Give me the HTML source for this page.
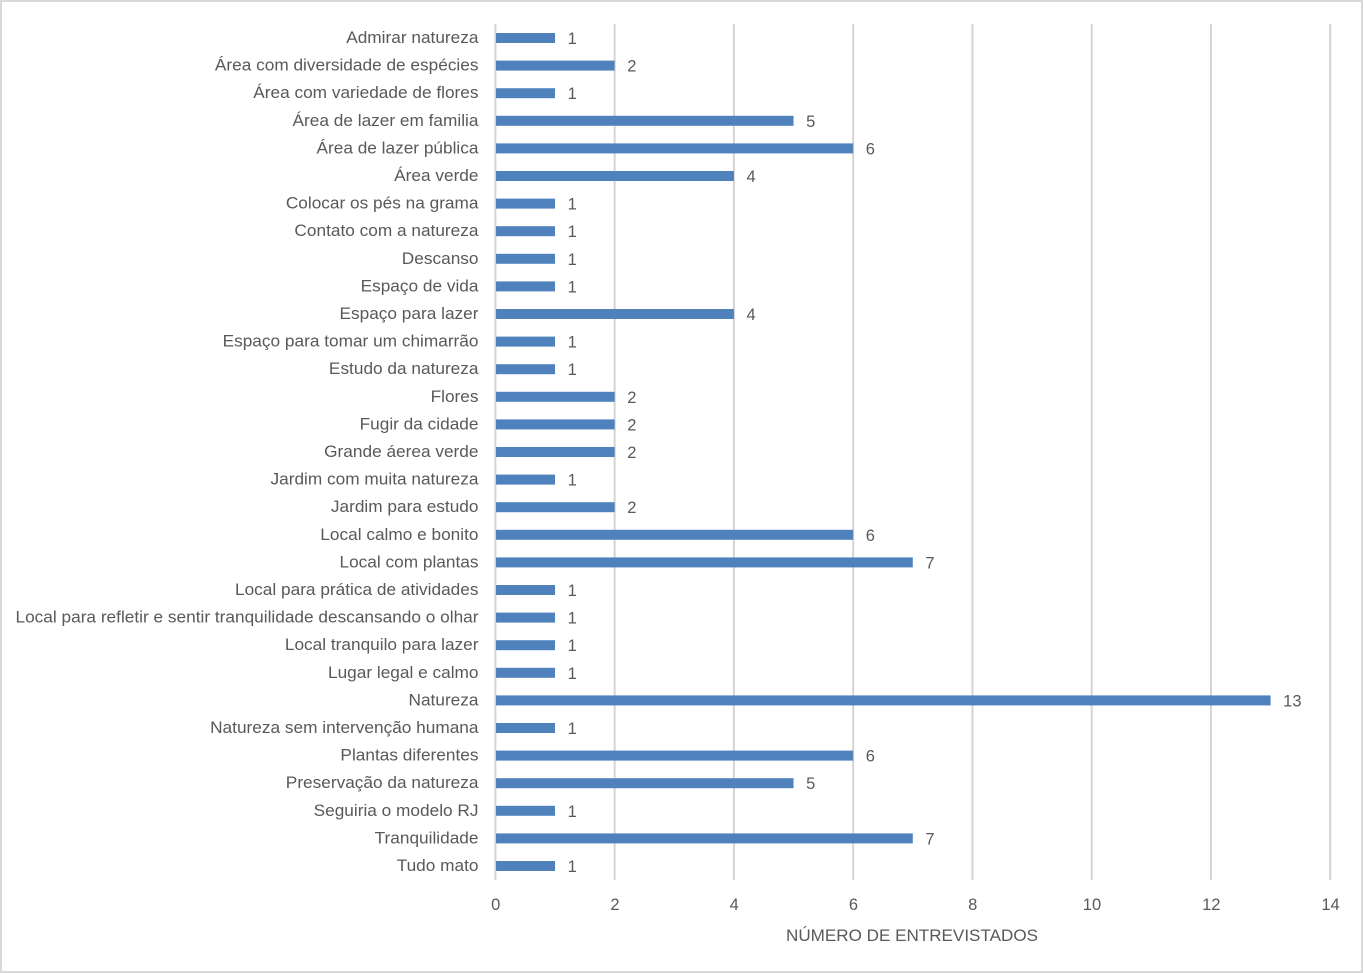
<!DOCTYPE html>
<html lang="pt">
<head>
<meta charset="utf-8">
<title>Número de entrevistados</title>
<style>
html,body{margin:0;padding:0;background:#fff;}
svg{display:block;}
text{font-family:"Liberation Sans",sans-serif;fill:#595959;font-size:16.5px;}
</style>
</head>
<body>
<svg id="chart" width="1363" height="973" viewBox="0 0 1363 973" xmlns="http://www.w3.org/2000/svg">
<rect x="1" y="1" width="1361" height="971" fill="#fff" stroke="#d9d9d9" stroke-width="2"/>
<g id="grid"></g>
<g id="bars"></g>
<g id="cats"></g>
<g id="vals"></g>
<g id="ticks"></g>
<text id="xtitle" x="912" y="941" text-anchor="middle">NÚMERO DE ENTREVISTADOS</text>
</svg>
<script>
const categories = ["Admirar natureza","Área com diversidade de espécies","Área com variedade de flores","Área de lazer em familia","Área de lazer pública","Área verde","Colocar os pés na grama","Contato com a natureza","Descanso","Espaço de vida","Espaço para lazer","Espaço para tomar um chimarrão","Estudo da natureza","Flores","Fugir da cidade","Grande áerea verde","Jardim com muita natureza","Jardim para estudo","Local calmo e bonito","Local com plantas","Local para prática de atividades","Local para refletir e sentir tranquilidade descansando o olhar","Local tranquilo para lazer","Lugar legal e calmo","Natureza","Natureza sem intervenção humana","Plantas diferentes","Preservação da natureza","Seguiria o modelo RJ","Tranquilidade","Tudo mato"];
const values = [1,2,1,5,6,4,1,1,1,1,4,1,1,2,2,2,1,2,6,7,1,1,1,1,13,1,6,5,1,7,1];
const tickValues = [0,2,4,6,8,10,12,14];

const NS = "http://www.w3.org/2000/svg";
const plot = {left:495.4, right:1330.2, top:24, bottom:880, firstY:38, lastY:866};
const xMax = tickValues[tickValues.length-1];
function xScale(v){ return plot.left + v/xMax*(plot.right-plot.left); }
function yScale(i){ return plot.firstY + i/(categories.length-1)*(plot.lastY-plot.firstY); }
function mk(tag, attrs, parent, txt){
  const el = document.createElementNS(NS, tag);
  for (const k in attrs) el.setAttribute(k, attrs[k]);
  if (txt !== undefined) el.textContent = txt;
  parent.appendChild(el);
  return el;
}
const gGrid = document.getElementById('grid');
const gBars = document.getElementById('bars');
const gCats = document.getElementById('cats');
const gVals = document.getElementById('vals');
const gTicks = document.getElementById('ticks');

tickValues.forEach(function(t){
  const line = mk('line',{x1:xScale(t),x2:xScale(t),y1:plot.top,y2:plot.bottom,stroke:'#d4d4d4','stroke-width':2},gGrid);
  
  
  const label = mk('text',{x:xScale(t)+0.3,y:910,'text-anchor':'middle'},gTicks,String(t));
  
  
});

categories.forEach(function(c,i){
  const y = yScale(i);
  const bar = mk('rect',{x:plot.left+0.6,y:y-5,width:xScale(values[i])-plot.left-0.6,height:10,fill:'#4f81bd'},gBars);
  
  
  const cat = mk('text',{x:478.5,y:y+5,'text-anchor':'end'},gCats,c);
  
  
  const val = mk('text',{x:xScale(values[i])+12.6,y:y+6,'text-anchor':'start'},gVals,String(values[i]));
  
  
});

// Fit the text widths to the narrower look of the reference font.
const catEls = Array.from(gCats.children);
let longest = 0;
catEls.forEach(function(e){ longest = Math.max(longest, e.getComputedTextLength()); });
const k = 463 / longest;
catEls.forEach(function(e){
  e.setAttribute('textLength', e.getComputedTextLength()*k);
  e.setAttribute('lengthAdjust', 'spacingAndGlyphs');
});
const xt = document.getElementById('xtitle');
xt.setAttribute('textLength', 252);
xt.setAttribute('lengthAdjust', 'spacingAndGlyphs');
</script>
</body>
</html>
